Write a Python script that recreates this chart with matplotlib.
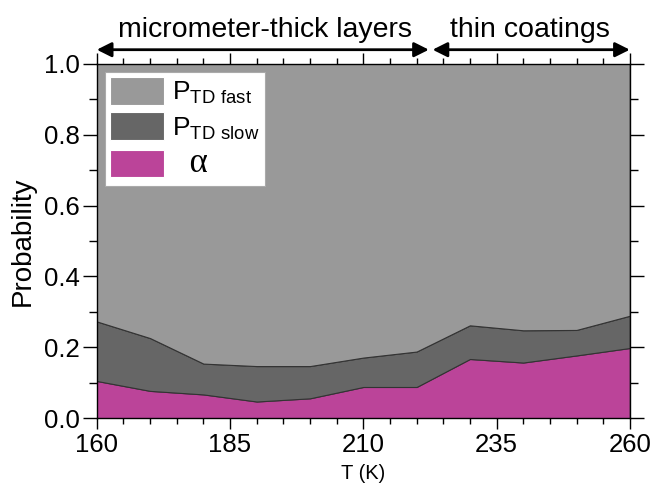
import numpy as np
import matplotlib.pyplot as plt
from matplotlib.ticker import MultipleLocator

plt.rcParams['font.family'] = ['Liberation Sans', 'DejaVu Sans']
plt.rcParams['mathtext.fontset'] = 'custom'
plt.rcParams['mathtext.rm'] = 'Liberation Sans'

# temperature (K) and stacked probabilities
T = [160, 170, 180, 190, 200, 210, 220, 230, 240, 250, 260]
alpha = [0.105, 0.077, 0.067, 0.047, 0.056, 0.088, 0.088, 0.167, 0.157, 0.177, 0.198]
slow_top = [0.273, 0.226, 0.154, 0.147, 0.147, 0.171, 0.188, 0.262, 0.248, 0.249, 0.289]
p_slow = [s - a for s, a in zip(slow_top, alpha)]
p_fast = [1.0 - s for s in slow_top]

labels = [r'P$_{\mathrm{TD\ fast}}$', r'P$_{\mathrm{TD\ slow}}$', '  α']
colors = ['#999999', '#666666', '#bb4499']
xticks = [160, 185, 210, 235, 260]

fig = plt.figure(figsize=(6.54, 4.99), dpi=100)
ax = fig.add_axes([0.148, 0.162, 0.815, 0.71])

polys = ax.stackplot(T, alpha, p_slow, p_fast, colors=colors[::-1],
                     edgecolor='#333333', linewidth=0.8)

ax.set_xlim(160, 260)
ax.set_ylim(0, 1.0)
ax.set_xticks(xticks)
ax.xaxis.set_minor_locator(MultipleLocator(5))
ax.yaxis.set_major_locator(MultipleLocator(0.2))
ax.yaxis.set_minor_locator(MultipleLocator(0.1))
ax.yaxis.set_major_formatter(lambda v, p: f'{v:.1f}')
ax.tick_params(which='both', direction='out', top=True, right=True,
               width=1.0, labelsize=18.5)
ax.tick_params(axis='x', which='major', length=8, pad=3)
ax.tick_params(axis='x', which='minor', length=4)
ax.tick_params(axis='y', which='major', length=10, pad=2)
ax.tick_params(axis='y', which='minor', length=6)
for sp in ax.spines.values():
    sp.set_linewidth(1.0)

ax.set_xlabel('T (K)', fontsize=14.5, labelpad=5)
ax.set_ylabel('Probability', fontsize=20, labelpad=6)

handles = [polys[2], polys[1], polys[0]]
leg = ax.legend(handles, labels, loc='upper left', fontsize=19,
                handlelength=2.05, handleheight=1.25, labelspacing=0.22,
                handletextpad=0.3, borderpad=0.2, borderaxespad=0.3,
                fancybox=False, framealpha=1.0, edgecolor='#aaaaaa')
leg.get_frame().set_linewidth(0.8)
for h in leg.legend_handles:
    h.set_edgecolor('white')
    h.set_linewidth(0.8)
leg.get_texts()[2].set_family('Liberation Serif')
leg.get_texts()[2].set_fontsize(25)

arrow_y = 1.04
ax.annotate('', xy=(160, arrow_y), xytext=(222.3, arrow_y),
            xycoords=('data', 'axes fraction'),
            arrowprops=dict(arrowstyle='<|-|>', color='black', lw=2,
                            mutation_scale=22, shrinkA=0, shrinkB=0),
            annotation_clip=False)
ax.annotate('', xy=(223.0, arrow_y), xytext=(260, arrow_y),
            xycoords=('data', 'axes fraction'),
            arrowprops=dict(arrowstyle='<|-|>', color='black', lw=2,
                            mutation_scale=22, shrinkA=0, shrinkB=0),
            annotation_clip=False)
ax.text(191.5, 1.096, 'micrometer-thick layers', transform=ax.get_xaxis_transform(),
        ha='center', va='center', fontsize=20.5)
ax.text(241.3, 1.096, 'thin coatings', transform=ax.get_xaxis_transform(),
        ha='center', va='center', fontsize=20.5)

fig.savefig('out.png', dpi=100)
